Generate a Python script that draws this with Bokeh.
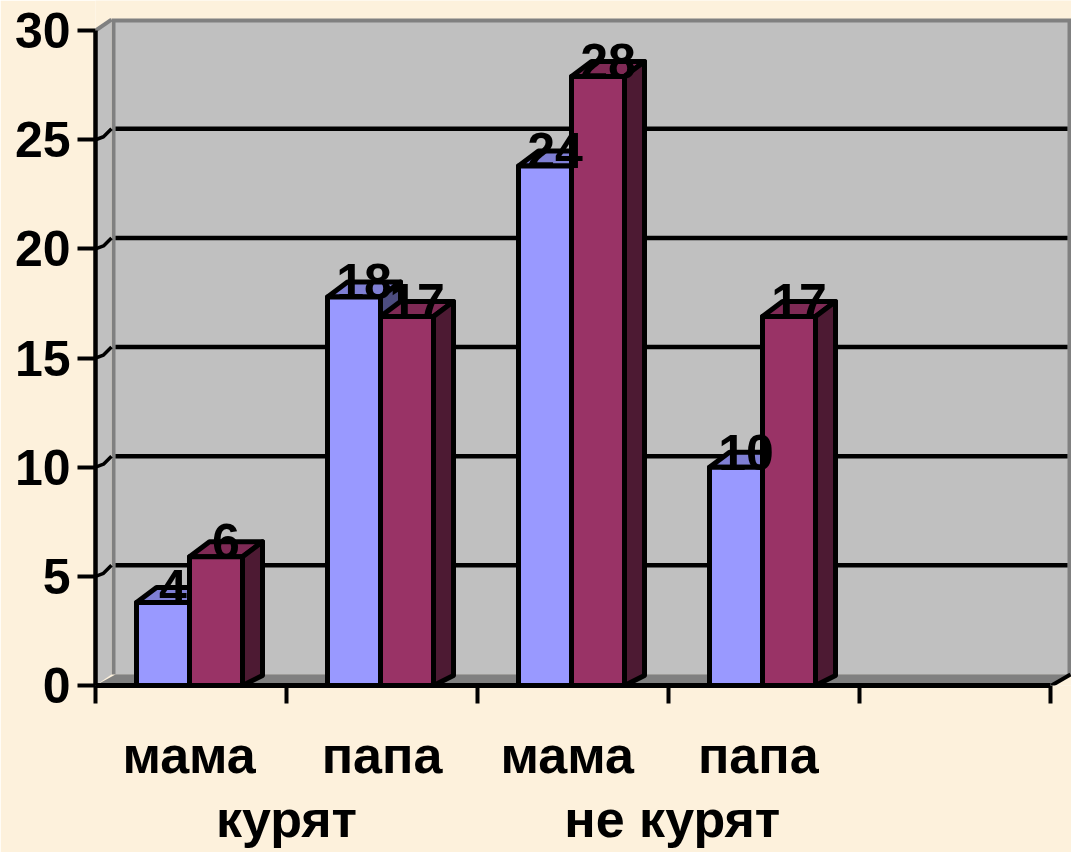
from bokeh.plotting import figure
from bokeh.models import Range1d, LinearAxis, FixedTicker
from bokeh.core.properties import value
from bokeh.embed import file_html
from bokeh.resources import INLINE

categories = ["мама", "папа", "мама", "папа"]
groups = ["курят", "не курят"]
series_a = [3.8, 17.8, 23.8, 10.0]
series_b = [5.9, 16.9, 27.9, 16.9]
labels_a = ["4", "18", "24", "10"]
labels_b = ["6", "17", "28", "17"]
y_ticks = [0, 5, 10, 15, 20, 25, 30]

W, H = 1071, 852
LEFT, BOTTOM = 95, 167
PX_X = 191.0   # pixels per category
PX_Y = 21.83   # pixels per unit
FONT = "Liberation Sans"
BG = "#fdf1dc"

def dx(px): return px / PX_X
def dy(px): return px / PX_Y

p = figure(width=W, height=H, output_backend="svg", toolbar_location=None,
           x_range=Range1d(0, (W - LEFT) / PX_X),
           y_range=Range1d(0, (H - BOTTOM) / PX_Y),
           x_axis_type=None, y_axis_type=None,
           min_border_left=LEFT, min_border_bottom=BOTTOM,
           min_border_top=0, min_border_right=0,
           background_fill_color=BG, border_fill_color=BG,
           outline_line_color=None)
p.styles = {"position": "fixed", "left": "0px", "top": "0px"}
p.grid.visible = False

top = 30.0
wall_y = dy(11)
wall_x = dx(20)
xmax = (W - LEFT) / PX_X
# back wall with grey frame
p.quad(left=[dx(16)], right=[xmax], bottom=[wall_y], top=[top + dy(12)], fill_color="#808080", line_color=None)
p.quad(left=[wall_x], right=[dx(972)], bottom=[wall_y], top=[top + dy(8)], fill_color="#c0c0c0", line_color=None)
# side wall
p.patch([0, dx(16), dx(16), 0], [0, wall_y, top + dy(11), top], fill_color="#c0c0c0", line_color=None)
p.line([0, dx(16)], [top, top + dy(11)], line_color="#808080", line_width=4)
# floor
p.patch([0, wall_x, xmax, dx(956)], [0, wall_y, wall_y, 0], fill_color="#808080", line_color=None)
# grid lines
for t in y_ticks[1:-1]:
    p.line([wall_x, dx(972)], [t + wall_y, t + wall_y], line_color="black", line_width=4.5)
    p.line([0, dx(8), dx(16)], [t, t + dy(3), t + wall_y], line_color="black", line_width=3.5)
p.line([dx(956), dx(975)], [0, wall_y], line_color="black", line_width=4)

BAR_OFF = dx(41)
BAR_W = dx(53)
DEPTH_X = dx(20)

def bar(x0, v, front, tp, side):
    x1 = x0 + BAR_W
    kw = dict(line_color="black", line_width=5, line_join="round")
    p.patch([x0, x0 + DEPTH_X, x1 + DEPTH_X, x1], [v, v + dy(15), v + dy(15), v], fill_color=tp, **kw)
    p.patch([x1, x1 + DEPTH_X, x1 + DEPTH_X, x1], [0, dy(10), v + dy(15), v], fill_color=side, **kw)
    p.quad(left=[x0], right=[x1], bottom=[0], top=[v], fill_color=front, **kw)

for i, (a, b) in enumerate(zip(series_a, series_b)):
    xa = i + BAR_OFF
    xb = xa + BAR_W
    bar(xa, a, "#9999ff", "#7f7fd4", "#4d4d80")
    bar(xb, b, "#993366", "#7f2a55", "#4d1a33")

# data labels
lab_x, lab_y, lab_t = [], [], []
for i in range(4):
    xa = i + BAR_OFF
    xb = xa + BAR_W
    lab_x += [xa + BAR_W / 2 + dx(10), xb + BAR_W / 2 + dx(10)]
    lab_y += [series_a[i] + dy(15), series_b[i] + dy(15)]
    lab_t += [labels_a[i], labels_b[i]]
p.text(lab_x, lab_y, text=lab_t, text_font=value(FONT), text_font_size="50px",
       text_font_style="bold", text_color="black",
       text_align="center", text_baseline="alphabetic")

# y axis
ya = LinearAxis(ticker=FixedTicker(ticks=y_ticks), bounds=(0, 30))
ya.axis_line_width = 4.5
ya.major_tick_line_width = 4
ya.major_tick_in = 0
ya.major_tick_out = 18
ya.minor_tick_line_color = None
ya.major_label_text_font = FONT
ya.major_label_text_font_size = "50px"
ya.major_label_text_font_style = "bold"
ya.major_label_text_color = "black"
ya.major_label_standoff = 7
p.add_layout(ya, "left")

def label_axis(ticks, minor, texts, standoff, line):
    ax = LinearAxis(ticker=FixedTicker(ticks=ticks, minor_ticks=minor), bounds=(0, 5),
                    major_label_overrides={t: s for t, s in zip(ticks, texts)})
    ax.axis_line_color = "black" if line else None
    ax.axis_line_width = 5
    ax.major_tick_line_color = None
    ax.major_tick_in = 0
    ax.major_tick_out = 0
    ax.minor_tick_line_color = "black" if line else None
    ax.minor_tick_line_width = 4
    ax.minor_tick_in = 0
    ax.minor_tick_out = 18
    ax.major_label_text_font = FONT
    ax.major_label_text_font_size = "52px"
    ax.major_label_text_font_style = "bold"
    ax.major_label_text_color = "black"
    ax.major_label_standoff = standoff
    p.add_layout(ax, "below")

label_axis([0.49, 1.5, 2.47, 3.47], [0, 1, 2, 3, 4, 5], categories, 22, True)
label_axis([1.0, 3.02], [], groups, 3, False)

open("out.html", "w").write(file_html(p, INLINE))
